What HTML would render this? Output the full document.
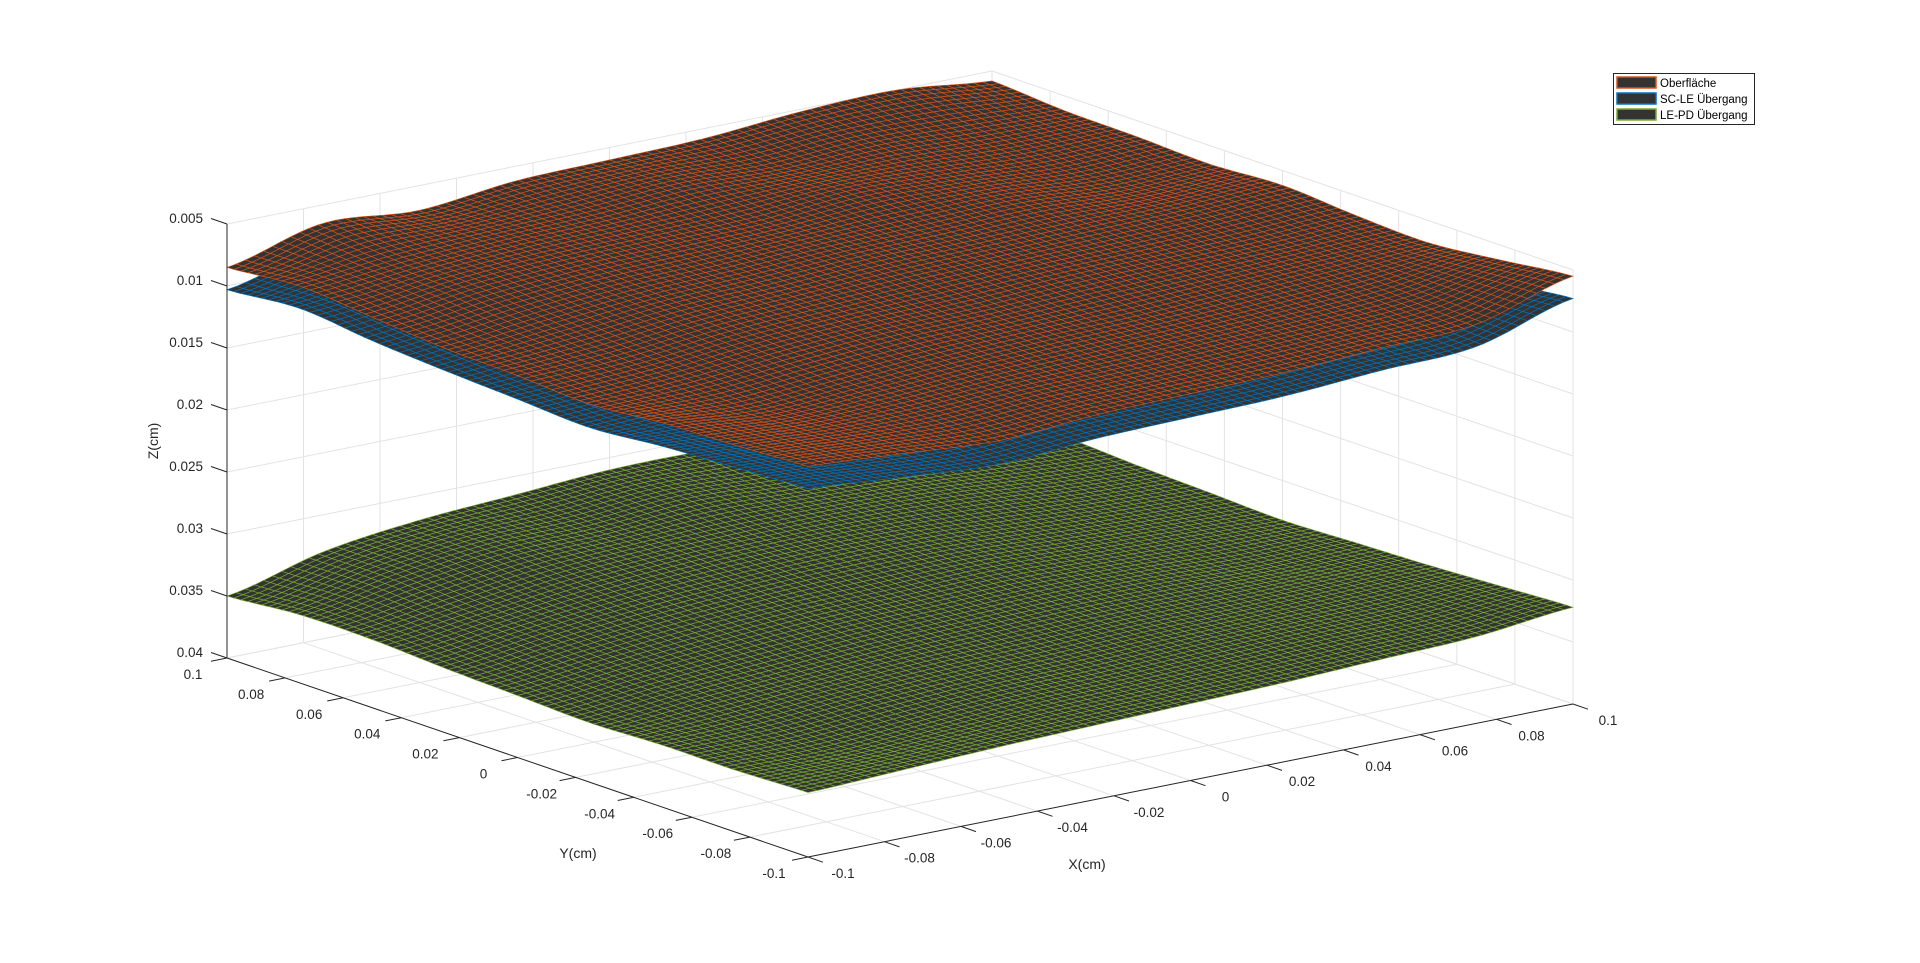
<!DOCTYPE html>
<html><head><meta charset="utf-8"><style>
html,body{margin:0;padding:0;background:#fff;}
svg{display:block;font-family:"Liberation Sans",Arial,sans-serif;}
</style></head><body>
<svg id="chart" width="1920" height="963" viewBox="0 0 1920 963" xmlns="http://www.w3.org/2000/svg">
<g id="grid"></g>
<g id="surfaces"></g>
<g id="axes"></g>
<text x="0" y="0" transform="translate(158,441) rotate(-90)" text-anchor="middle" font-size="14" fill="#262626">Z(cm)</text>
<text x="578" y="858" text-anchor="middle" font-size="14" fill="#262626">Y(cm)</text>
<text x="1087" y="869" text-anchor="middle" font-size="14" fill="#262626">X(cm)</text>
<g>
<rect x="1613.5" y="73.5" width="141" height="51" fill="#fff" stroke="#262626" stroke-width="1"/>
<g><rect x="1617" y="77" width="39" height="11" fill="#333" stroke="#D95319" stroke-width="1.5"/><text x="1660" y="87" font-size="11.5" fill="#000">Oberfläche</text></g>
<g><rect x="1617" y="93" width="39" height="11" fill="#333" stroke="#0072BD" stroke-width="1.5"/><text x="1660" y="103" font-size="11.5" fill="#000">SC-LE Übergang</text></g>
<g><rect x="1617" y="109" width="39" height="11" fill="#333" stroke="#77AC30" stroke-width="1.5"/><text x="1660" y="119" font-size="11.5" fill="#000">LE-PD Übergang</text></g>
</g>
</svg>
<script>
// Data: depth grids (rows: y from 0.1 to -0.1, cols: x from -0.1 to 0.1)
const zTicks = [0.005,0.01,0.015,0.02,0.025,0.03,0.035,0.04];
const zTickLabels = ["0.005","0.01","0.015","0.02","0.025","0.03","0.035","0.04"];
const xTicks = [-0.1,-0.08,-0.06,-0.04,-0.02,0,0.02,0.04,0.06,0.08,0.1];
const xTickLabels = ["-0.1","-0.08","-0.06","-0.04","-0.02","0","0.02","0.04","0.06","0.08","0.1"];
const yTicks = [0.1,0.08,0.06,0.04,0.02,0,-0.02,-0.04,-0.06,-0.08,-0.1];
const yTickLabels = ["0.1","0.08","0.06","0.04","0.02","0","-0.02","-0.04","-0.06","-0.08","-0.1"];
const surfaceOberflaeche = [
[.0085,.0065,.0070,.0062,.0060,.0058,.0052,.0050,.0058],
[.0080,.0072,.0068,.0065,.0060,.0062,.0058,.0060,.0062],
[.0085,.0075,.0070,.0068,.0066,.0060,.0062,.0065,.0063],
[.0090,.0082,.0075,.0072,.0068,.0066,.0064,.0068,.0065],
[.0092,.0088,.0080,.0076,.0072,.0070,.0068,.0066,.0062],
[.0095,.0092,.0085,.0080,.0078,.0074,.0072,.0070,.0066],
[.0090,.0095,.0090,.0085,.0082,.0080,.0076,.0072,.0068],
[.0088,.0092,.0092,.0088,.0086,.0083,.0080,.0075,.0062],
[.0085,.0090,.0095,.0090,.0088,.0086,.0082,.0078,.0055]];
const surfaceSCLE = [
[.0103,.0084,.0088,.0080,.0079,.0076,.0071,.0069,.0076],
[.0098,.0090,.0087,.0083,.0079,.0080,.0077,.0078,.0080],
[.0104,.0094,.0089,.0087,.0084,.0079,.0080,.0083,.0081],
[.0108,.0100,.0094,.0090,.0087,.0084,.0083,.0086,.0083],
[.0111,.0107,.0099,.0095,.0091,.0088,.0086,.0085,.0080],
[.0114,.0110,.0104,.0099,.0097,.0093,.0090,.0088,.0084],
[.0109,.0114,.0109,.0104,.0101,.0099,.0095,.0090,.0086],
[.0106,.0111,.0112,.0107,.0105,.0102,.0098,.0093,.0080],
[.0103,.0109,.0114,.0109,.0107,.0105,.0100,.0096,.0073]];
const surfaceLEPD = [
[.0350,.0330,.0320,.0315,.0310,.0310,.0315,.0320,.0325],
[.0345,.0330,.0320,.0318,.0312,.0315,.0318,.0322,.0325],
[.0345,.0335,.0325,.0320,.0318,.0318,.0320,.0325,.0328],
[.0348,.0338,.0330,.0325,.0322,.0322,.0325,.0328,.0330],
[.0350,.0342,.0335,.0330,.0328,.0326,.0328,.0330,.0332],
[.0352,.0345,.0340,.0335,.0332,.0330,.0330,.0332,.0330],
[.0350,.0348,.0342,.0338,.0336,.0333,.0332,.0330,.0328],
[.0350,.0350,.0345,.0340,.0338,.0335,.0332,.0330,.0325],
[.0348,.0345,.0342,.0340,.0338,.0336,.0333,.0330,.0322]];

const NS='http://www.w3.org/2000/svg';
function P(x,y,z){
  const u=(x+0.1)/0.2, w=(0.1-y)/0.2;
  return [227+581*w+765*u, 658+199*w-153*u-(0.04-z)/0.035*434];
}
function mk(tag,attrs,parent){const e=document.createElementNS(NS,tag);for(const k in attrs)e.setAttribute(k,attrs[k]);parent.appendChild(e);return e;}
const grid=document.getElementById('grid'), axes=document.getElementById('axes'), surf=document.getElementById('surfaces');
const gc='#e3e3e3';
function line(a,b,col,par,w){return mk('line',{x1:a[0],y1:a[1],x2:b[0],y2:b[1],stroke:col,'stroke-width':w||1},par);}
zTicks.forEach(z=>{
  let l=line(P(-0.1,0.1,z),P(0.1,0.1,z),gc,grid);
  
  
  l=line(P(0.1,0.1,z),P(0.1,-0.1,z),gc,grid);
  
  
});
xTicks.forEach(x=>{
  let l=line(P(x,0.1,0.04),P(x,0.1,0.005),gc,grid);
  
  
  l=line(P(x,0.1,0.04),P(x,-0.1,0.04),gc,grid);
  
  
});
yTicks.forEach(y=>{
  let l=line(P(0.1,y,0.04),P(0.1,y,0.005),gc,grid);
  
  
  l=line(P(-0.1,y,0.04),P(0.1,y,0.04),gc,grid);
  
  
});
function cr(p0,p1,p2,p3,t){return 0.5*((2*p1)+(-p0+p2)*t+(2*p0-5*p1+4*p2-p3)*t*t+(-p0+3*p1-3*p2+p3)*t*t*t);}
function sample(G,r,c){
  const n=G.length-1;
  const ri=Math.min(Math.floor(r),n-1), ci=Math.min(Math.floor(c),n-1);
  const tr=r-ri, tc=c-ci;
  const g=(i,j)=>G[Math.max(0,Math.min(n,i))][Math.max(0,Math.min(n,j))];
  const rows=[];
  for(let k=-1;k<=2;k++){rows.push(cr(g(ri+k,ci-1),g(ri+k,ci),g(ri+k,ci+1),g(ri+k,ci+2),tc));}
  return cr(rows[0],rows[1],rows[2],rows[3],tr);
}
const N=84;
function drawSurface(G,col,name){
  const g=mk('g',{},surf);
  
  
  const n=G.length-1;
  const pts=[];
  for(let i=0;i<=N;i++){pts.push([]);for(let j=0;j<=N;j++){
    const y=0.1-0.2*i/N, x=-0.1+0.2*j/N;
    pts[i].push(P(x,y,sample(G,i/N*n,j/N*n)));
  }}
  const cells=[];
  for(let i=0;i<N;i++)for(let j=0;j<N;j++)cells.push([i,j]);
  cells.sort((a,b)=>(a[0]-a[1])-(b[0]-b[1]));
  cells.forEach(([i,j])=>{
    const a=pts[i][j],b=pts[i][j+1],c=pts[i+1][j+1],e=pts[i+1][j];
    mk('polygon',{points:a[0].toFixed(1)+','+a[1].toFixed(1)+' '+b[0].toFixed(1)+','+b[1].toFixed(1)+' '+c[0].toFixed(1)+','+c[1].toFixed(1)+' '+e[0].toFixed(1)+','+e[1].toFixed(1),fill:'#333',stroke:col,'stroke-width':0.65},g);
  });
}
drawSurface(surfaceLEPD,'#77AC30','surface-le-pd');
drawSurface(surfaceSCLE,'#0072BD','surface-sc-le');
drawSurface(surfaceOberflaeche,'#D95319','surface-oberflaeche');
const ac='#262626';
let zl=line(P(-0.1,0.1,0.04),P(-0.1,0.1,0.005),ac,axes);


let yl=line(P(-0.1,0.1,0.04),P(-0.1,-0.1,0.04),ac,axes);


let xl=line(P(-0.1,-0.1,0.04),P(0.1,-0.1,0.04),ac,axes);


zTicks.forEach((z,k)=>{
  const p=P(-0.1,0.1,z);
  line(p,[p[0]-16,p[1]-5.5],ac,axes);
  const t=mk('text',{x:p[0]-24,y:p[1]-1,'text-anchor':'end','font-size':13.5,fill:ac},axes);
  
  
  t.textContent=zTickLabels[k];
});
yTicks.forEach((y,k)=>{
  const p=P(-0.1,y,0.04);
  line(p,[p[0]-16,p[1]+3.2],ac,axes);
  const t=mk('text',{x:p[0]-34,y:p[1]+21,'text-anchor':'middle','font-size':13.5,fill:ac},axes);
  
  
  t.textContent=yTickLabels[k];
});
xTicks.forEach((x,k)=>{
  const p=P(x,-0.1,0.04);
  line(p,[p[0]+15,p[1]+5.2],ac,axes);
  const t=mk('text',{x:p[0]+35,y:p[1]+21,'text-anchor':'middle','font-size':13.5,fill:ac},axes);
  
  
  t.textContent=xTickLabels[k];
});
</script>
</body></html>
